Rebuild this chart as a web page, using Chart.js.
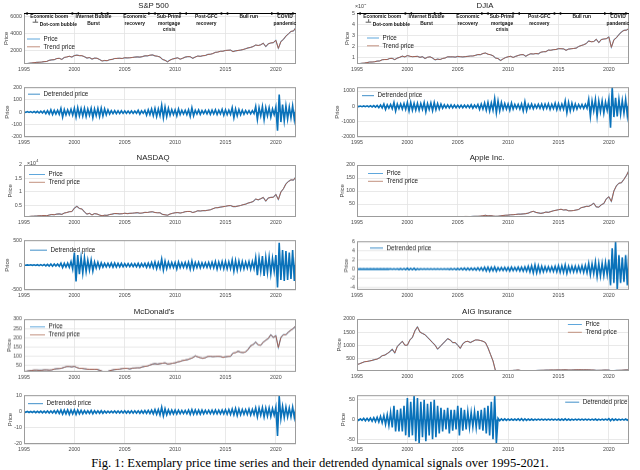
<!DOCTYPE html>
<html><head><meta charset="utf-8">
<script src="https://cdn.jsdelivr.net/npm/chart.js@4.4.1/dist/chart.umd.min.js"></script>
<style>
html,body{margin:0;padding:0;background:#fff;width:640px;height:470px;overflow:hidden;font-family:"Liberation Sans",Arial,sans-serif;}
canvas{position:absolute;}
.ttl{position:absolute;transform:translate(-50%,-50%);font-size:7.8px;color:#1a1a1a;white-space:nowrap;z-index:2;}
#cap{position:absolute;left:0;width:640px;top:456px;text-align:center;font-family:"Liberation Serif","Times New Roman",serif;font-size:12.6px;color:#000;white-space:nowrap;z-index:2;}
</style></head><body>
<div id="cap">Fig. 1: Exemplary price time series and their detrended dynamical signals over 1995-2021.</div>
<script>
// ---------- DATA ----------
const titles = ['S&P 500','DJIA','NASDAQ','Apple Inc.',"McDonald's",'AIG Insurance'];
const xTicks = [1995,2000,2005,2010,2015,2020];
const priceStart = 1995, priceStep = 0.25;   // quarterly samples
const detStart = 1995, detStep = 1/6;        // two-month samples

const spxPrice = [460,500,545,585, 615,650,670,690, 740,760,890,950, 970,1100,1130,1000, 1230,1290,1370,1280,
 1450,1500,1450,1440, 1320,1160,1220,1040, 1150,1140,990,810, 880,850,970,1000, 1110,1120,1140,1110,
 1200,1180,1190,1230, 1270,1300,1270,1330, 1420,1420,1500,1530, 1420,1370,1280,1000, 900,720,920,1050,
 1120,1190,1030,1140, 1270,1330,1320,1130, 1280,1400,1360,1440, 1460,1590,1610,1690, 1830,1870,1960,1970,
 2060,2080,2100,1920, 2010,2060,2100,2160, 2260,2360,2420,2520, 2700,2640,2720,2910, 2510,2840,2940,2980,
 3250,2300,3100,3360, 3750,4020,4300,4360, 4770];
const djiaPrice = [3840,4160,4560,4760, 5120,5600,5650,5900, 6450,6600,7700,7900, 7900,8900,8950,7800, 9200,10000,11000,10300,
 11500,10900,10500,10650, 10800,9900,10500,8850, 10000,10400,9250,7600, 8300,7900,8900,9300, 10400,10350,10400,10100,
 10750,10500,10300,10550, 10800,11100,11150,11700, 12450,12350,13400,13900, 12800,12300,11350,9300, 8800,7000,8500,9700,
 10400,10850,9800,10800, 11600,12300,12400,10900, 12200,13200,12900,13400, 13100,14600,15000,15100, 16500,16400,16900,17050,
 17800,17750,17600,16300, 17400,17700,18000,18300, 19800,20600,21400,22400, 24800,24100,24300,26400, 23300,26100,26600,26900,
 28500,19000,25800,27800, 30600,33000,34500,34700, 36300];
const nasdaqPrice = [750,820,930,1040, 1050,1100,1200,1230, 1300,1220,1450,1680, 1570,1800,1900,1700, 2200,2400,2700,2750,
 4000,4700,3900,3700, 2600,1800,2100,1500, 2000,1850,1450,1200, 1400,1350,1650,1800, 2050,2000,1900,1950,
 2150,2000,2100,2150, 2250,2350,2150,2250, 2450,2420,2600,2700, 2400,2300,2300,1700, 1550,1400,1850,2100,
 2300,2400,2200,2400, 2700,2800,2800,2400, 2650,3050,2950,3100, 3100,3250,3400,3800, 4150,4200,4400,4550,
 4700,4900,5000,4600, 4600,4800,5000,5300, 5500,5900,6150,6500, 7400,7100,7500,8000, 6600,7800,8000,8050,
 9100,7200,10000,11200, 13000,13900,14500,14400, 15700];
const applePrice = [0.35,0.35,0.3,0.25, 0.25,0.2,0.17,0.2, 0.15,0.13,0.17,0.15, 0.2,0.25,0.3,0.35, 0.35,0.4,0.5,0.8,
 1.0,0.9,0.8,0.35, 0.35,0.4,0.3,0.35, 0.4,0.35,0.25,0.25, 0.25,0.3,0.35,0.35, 0.4,0.5,0.6,0.9,
 1.3,1.2,1.8,2.3, 2.2,1.8,2.5,3.0, 3.0,3.8,5.0,6.8, 4.5,5.5,4.0,3.0, 3.2,4.5,6.0,7.0,
 7.5,8.5,9.0,10, 11,11,12,13, 15,19,22,18, 16,14,16,19, 18,21,24,26,
 28,30,27,28, 24,24,25,27, 29,36,38,41, 41,46,53,39, 38,47,52,70,
 78,60,100,120, 130,132,145,160, 180];
const mcdPrice = [16,17,19,21, 23,23,22,22, 24,24,23,24, 28,30,31,33, 38,42,42,40,
 43,37,32,32, 30,28,27,27, 27,27,22,17, 14,14,20,23, 26,27,28,31,
 32,32,29,33, 34,35,35,40, 43,45,50,55, 58,55,58,60, 62,56,57,60,
 62,67,70,75, 77,80,85,90, 100,95,90,87, 90,97,98,96, 97,98,97,92,
 95,97,98,115, 118,125,120,118, 122,135,155,162, 175,160,158,175, 185,195,215,200,
 210,145,200,215, 215,230,240,250, 265];
const aigPrice = [260,290,330,370, 380,400,420,450, 470,520,600,620, 680,750,850,700, 950,1050,1150,1000,
 1000,1200,1300,1550, 1700,1500,1450,1400, 1300,1200,1100,1000, 850,950,1050,1150, 1250,1200,1100,1100,
 1000,880,1050,1130, 1150,1100,1150,1200, 1200,1180,1150,1100, 900,650,400,20, 25,20,30,30,
 30,35,38,45, 55,35,28,25, 30,32,33,35, 38,42,46,48, 50,55,54,56,
 58,55,62,60, 55,53,58,62, 65,62,61,62, 60,55,53,40, 42,45,50,52,
 48,25,30,38, 42,46,52,57, 58];
// trend prices as read: they lie on top of the prices at this scale
const spxTrend = spxPrice, djiaTrend = djiaPrice, nasdaqTrend = nasdaqPrice,
      appleTrend = applePrice, mcdTrend = mcdPrice, aigTrend = aigPrice;

const spxDet = [3,-3,4,-3,4,-4, 5,-5,6,-7,8,-8, 10,-12,12,-15,18,-20, 14,-15,15,-18,30,-40, 20,-22,18,-20,22,-25,
 30,-40,35,-30,28,-32, 30,-35,25,-25,30,-45, 25,-28,30,-35,32,-30, 25,-22,18,-15,12,-12, 12,-12,10,-12,10,-10,
 10,-10,8,-10,10,-10, 8,-10,14,-16,10,-10, 14,-25,18,-20,25,-28, 30,-35,25,-28,55,-45, 40,-35,30,-25,20,-20,
 18,-30,25,-20,15,-15, 15,-20,18,-35,35,-30, 15,-15,18,-18,12,-12, 14,-14,15,-18,16,-15, 18,-20,14,-15,22,-25,
 18,-20,15,-18,35,-45, 25,-30,20,-22,15,-18, 12,-12,12,-14,12,-12, 45,-60,35,-30,45,-60, 35,-30,35,-40,25,-20,
 40,-150,140,-80,60,-70, 50,-55,40,-45,50,-60, 40];
const djiaDet = [15,-15,20,-20,25,-25, 30,-30,40,-40,50,-50, 60,-80,90,-100,150,-200, 100,-120,120,-150,250,-300, 150,-150,150,-180,180,-200,
 250,-300,250,-250,200,-250, 200,-250,180,-200,250,-350, 180,-200,220,-280,250,-220, 180,-180,150,-130,100,-100, 100,-100,90,-100,90,-90,
 80,-90,80,-90,80,-80, 80,-90,100,-120,80,-90, 120,-200,150,-180,220,-250, 250,-300,220,-250,500,-420, 350,-300,250,-200,180,-180,
 150,-250,220,-180,130,-130, 130,-170,160,-300,300,-280, 130,-130,150,-160,110,-110, 130,-130,150,-170,150,-140, 170,-200,130,-150,200,-220,
 170,-200,150,-180,350,-420, 250,-300,200,-220,150,-180, 120,-120,120,-140,130,-130, 450,-650,350,-300,450,-650, 350,-350,350,-450,280,-250,
 450,-1400,1250,-700,550,-650, 450,-500,380,-450,450,-600, 400];
const nasdaqDet = [3,-3,4,-4,5,-5, 6,-8,8,-10,10,-10, 12,-15,15,-18,20,-22, 20,-20,22,-25,40,-50, 35,-40,40,-45,70,-80,
 250,-330,200,-180,150,-160, 150,-130,100,-100,100,-120, 60,-60,55,-60,45,-40, 35,-35,35,-35,40,-40, 40,-40,35,-35,35,-35,
 30,-30,28,-30,30,-30, 30,-35,35,-40,30,-30, 35,-45,40,-45,50,-55, 60,-70,50,-60,120,-100, 80,-70,60,-50,50,-50,
 50,-80,60,-50,45,-45, 50,-55,55,-80,80,-75, 50,-50,55,-55,45,-45, 45,-45,50,-55,55,-55, 70,-80,60,-60,70,-75,
 70,-75,65,-70,100,-120, 90,-100,80,-80,70,-75, 60,-60,70,-80,70,-70, 150,-200,140,-120,180,-220, 150,-150,160,-170,130,-120,
 200,-450,450,-300,300,-320, 280,-300,250,-280,300,-320, 250];
const appleDet = [0.02,-0.02,0.02,-0.02,0.02,-0.02, 0.02,-0.02,0.02,-0.02,0.02,-0.02, 0.02,-0.02,0.02,-0.02,0.03,-0.03, 0.03,-0.03,0.04,-0.04,0.05,-0.05, 0.06,-0.06,0.08,-0.08,0.1,-0.1,
 0.15,-0.15,0.12,-0.12,0.15,-0.15, 0.08,-0.08,0.06,-0.06,0.06,-0.06, 0.05,-0.05,0.04,-0.04,0.04,-0.04, 0.04,-0.04,0.04,-0.04,0.05,-0.05, 0.06,-0.06,0.08,-0.08,0.1,-0.1,
 0.12,-0.12,0.15,-0.15,0.18,-0.18, 0.2,-0.2,0.2,-0.2,0.2,-0.2, 0.25,-0.25,0.3,-0.3,0.4,-0.4, 0.4,-0.45,0.35,-0.35,0.45,-0.45, 0.3,-0.3,0.3,-0.3,0.35,-0.35,
 0.35,-0.4,0.4,-0.35,0.35,-0.35, 0.4,-0.4,0.4,-0.45,0.45,-0.45, 0.6,-0.6,0.7,-0.8,0.9,-0.8, 0.7,-0.7,0.6,-0.6,0.5,-0.5, 0.5,-0.5,0.5,-0.5,0.6,-0.6,
 0.7,-0.7,0.7,-0.7,0.9,-0.9, 0.6,-0.6,0.6,-0.6,0.6,-0.6, 0.6,-0.6,0.7,-0.7,0.8,-0.8, 1.2,-1.2,1.1,-1,1.5,-1.6, 1.2,-1.5,1.2,-1.4,1.4,-1.2,
 2,-3.5,4.5,-3,6,-4.5, 3,-3,2.5,-2.8,3,-3.5, 4.5];
const mcdDet = [0.2,-0.2,0.3,-0.3,0.3,-0.3, 0.4,-0.4,0.4,-0.4,0.5,-0.5, 0.5,-0.5,0.6,-0.6,0.6,-0.6, 0.8,-0.8,1,-1,1.2,-1.3, 1.2,-1.2,1.3,-1.5,1.2,-1.2,
 1.3,-1.5,1.2,-1.2,1,-1.1, 0.9,-0.9,0.8,-0.9,1,-1.1, 0.8,-0.8,0.7,-0.8,0.8,-0.8, 0.6,-0.6,0.5,-0.5,0.5,-0.5, 0.6,-0.6,0.6,-0.6,0.6,-0.6,
 0.7,-0.7,0.6,-0.7,0.7,-0.7, 0.7,-0.7,0.7,-0.8,0.8,-0.8, 0.9,-0.9,1,-1,1.2,-1.2, 1.5,-1.5,1.5,-1.8,3,-2.5, 2,-1.8,1.3,-1.3,1.2,-1.2,
 1.2,-1.3,1.1,-1.1,1,-1, 1,-1.1,1.2,-1.5,1.5,-1.4, 1.3,-1.3,1.2,-1.3,1.2,-1.2, 1,-1,1.1,-1.1,1.1,-1.1, 1.2,-1.2,1.1,-1.1,1.2,-1.2,
 1.4,-1.4,1.5,-1.5,1.8,-1.8, 2.2,-2.2,1.8,-1.8,1.5,-1.5, 1.5,-1.5,1.8,-1.8,1.6,-1.6, 2.5,-3,2.5,-2,2.8,-3, 2.5,-2.5,2.5,-2.8,2.2,-2,
 3,-15,10,-4,3.5,-3.5, 3,-3,2.5,-3,3,-3.5, 3];
const aigDet = [2,-2,2,-2,3,-3, 3,-3,4,-4,5,-5, 6,-6,8,-8,10,-12, 12,-15,18,-20,35,-30, 25,-30,28,-30,35,-40,
 55,-45,45,-40,60,-55, 55,-60,45,-45,50,-55, 40,-40,45,-50,50,-45, 35,-35,30,-30,25,-25, 30,-35,25,-28,25,-25,
 35,-40,30,-28,25,-25, 20,-20,18,-18,20,-20, 22,-25,25,-28,30,-35, 35,-40,45,-50,60,-60, 3,-3,2,-2,2,-2,
 1.5,-1.5,1.5,-1.5,1.5,-1.5, 2,-2,2.5,-2.5,2,-2, 1.5,-1.5,1.5,-1.5,1.2,-1.2, 1.2,-1.2,1.2,-1.2,1.2,-1.2, 1.2,-1.2,1.2,-1.2,1.3,-1.3,
 1.5,-1.5,1.5,-1.5,1.8,-1.8, 1.5,-1.5,1.3,-1.3,1.2,-1.2, 1.1,-1.1,1.1,-1.1,1.1,-1.1, 1.3,-1.3,1.2,-1.2,1.5,-1.5, 1.3,-1.3,1.2,-1.2,1.2,-1.2,
 2.5,-3,2,-2,1.5,-1.5, 1.3,-1.3,1.3,-1.3,1.5,-1.5, 1.5];

// y-axis ticks and their labels
const spxTicks = [2000,4000,6000], spxTickLabels = ['2000','4000','6000'];
const djiaTicks = [10000,20000,30000,40000,50000], djiaTickLabels = ['1','2','3','4','5'];
const nasdaqTicks = [5000,10000,15000,20000], nasdaqTickLabels = ['0.5','1','1.5','2'];
const appleTicks = [50,100,150,200], appleTickLabels = ['50','100','150','200'];
const mcdTicks = [50,100,150,200,250,300], mcdTickLabels = ['50','100','150','200','250','300'];
const aigTicks = [500,1000,1500,2000], aigTickLabels = ['500','1000','1500','2000'];
const spxDetTicks = [-200,-100,0,100,200], spxDetTickLabels = ['-200','-100','0','100','200'];
const djiaDetTicks = [-2000,-1000,0,1000], djiaDetTickLabels = ['-2000','-1000','0','1000'];
const nasdaqDetTicks = [-500,0,500], nasdaqDetTickLabels = ['-500','0','500'];
const appleDetTicks = [-4,-2,0,2,4,6], appleDetTickLabels = ['-4','-2','0','2','4','6'];
const mcdDetTicks = [-20,-10,0,10], mcdDetTickLabels = ['-20','-10','0','10'];
const aigDetTicks = [-50,0,50], aigDetTickLabels = ['-50','0','50'];

// market-phase annotations (S&P 500 and DJIA)
const eventNames = [['Economic boom'],['Internet Bubble','Burst'],['Economic','recovery'],['Sub-Prime','mortgage','crisis'],['Post-GFC','recovery'],['Bull run'],['COVID','pandemic']];
const eventCenters = [1997.5, 2001.9, 2006.0, 2009.4, 2013.1, 2017.3, 2020.9];
const eventBounds = [1995, 2000.1, 2003.0, 2007.7, 2010.8, 2014.9, 2019.9, 2022];
const bubbleName = 'Dot-com bubble', bubbleCenter = 1998.4;

// ---------- DRAWING ----------
const F = '"Liberation Sans", Arial, sans-serif';
const TICKFONT = 5.3;

function pts(start, step, arr){ return arr.map((v,i)=>({x:start+i*step, y:v})); }

function drawArrowHead(ctx, px, py, dir){ // dir +1 points right, -1 points left
  ctx.beginPath(); ctx.moveTo(px, py); ctx.lineTo(px - dir*3.2, py - 1.6); ctx.lineTo(px - dir*3.2, py + 1.6); ctx.closePath(); ctx.fill();
}

function panelPlugin(spec){
  return { id:'panel', afterDatasetsDraw(chart){
    const {ctx, chartArea:a, scales} = chart;
    ctx.save();
    // axes box
    ctx.strokeStyle = '#9c9c9c'; ctx.lineWidth = 1;
    ctx.strokeRect(a.left+0.5, a.top+0.5, a.right-a.left-1, a.bottom-a.top-1);
    // y label
    ctx.font = TICKFONT+'px '+F;
    let mw = 0; spec.yLabels.forEach(t=>{ mw = Math.max(mw, ctx.measureText(t).width); });
    ctx.save(); ctx.translate(a.left - 2 - mw - 4.2, (a.top+a.bottom)/2); ctx.rotate(-Math.PI/2);
    ctx.font = '5.8px '+F; ctx.fillStyle = '#3a3a3a'; ctx.textAlign='center'; ctx.textBaseline='middle';
    ctx.fillText('Price', 0, 0); ctx.restore();
    // exponent label
    if (spec.expo){
      ctx.fillStyle = '#3a3a3a'; ctx.textAlign='left'; ctx.textBaseline='alphabetic';
      const ex = a.left + spec.expo.dx, ey = a.top + spec.expo.dy;
      ctx.font = TICKFONT+'px '+F; ctx.fillText('\u00d710', ex, ey);
      const w = ctx.measureText('\u00d710').width;
      ctx.font = '3.8px '+F; ctx.fillText('4', ex + w + 0.3, ey - 2.6);
    }
    // events
    if (spec.events){
      const xs = scales.x;
      ctx.strokeStyle = '#000'; ctx.fillStyle = '#000'; ctx.lineWidth = 1.1;
      ctx.beginPath(); ctx.moveTo(a.left, a.top+0.5); ctx.lineTo(a.right, a.top+0.5); ctx.stroke();
      eventBounds.forEach((b,i)=>{
        const px = xs.getPixelForValue(b);
        if (i > 0) drawArrowHead(ctx, px-0.5, a.top+0.5, 1);
        if (i < eventBounds.length-1) drawArrowHead(ctx, px+0.5, a.top+0.5, -1);
      });
      ctx.font = 'bold 4.9px '+F; ctx.textAlign='center'; ctx.textBaseline='middle'; ctx.fillStyle = '#111';
      eventNames.forEach((lines,k)=>{
        const px = xs.getPixelForValue(eventCenters[k]);
        lines.forEach((t,j)=> ctx.fillText(t, px, a.top + 3.6 + j*6.6));
      });
      const bx = xs.getPixelForValue(bubbleCenter);
      ctx.fillText(bubbleName, bx, a.top + 11.2);
      const bw = ctx.measureText(bubbleName).width;
      ctx.lineWidth = 0.7; ctx.strokeStyle = '#111';
      ctx.beginPath(); ctx.moveTo(bx - bw/2 - 7, a.top + 9.2); ctx.lineTo(bx - bw/2 - 1.5, a.top + 9.2); ctx.stroke();
      ctx.beginPath(); ctx.moveTo(bx - bw/2 - 4, a.top + 6.2); ctx.lineTo(bx - bw/2 - 4, a.top + 8.8); ctx.stroke();
    }
    // legend
    const L = spec.legend;
    ctx.font = '6.3px '+F;
    const items = chart.data.datasets.map(d=>({label:d.label, color:d.legendColor || d.borderColor}));
    const tw = Math.max(...items.map(it=>ctx.measureText(it.label).width));
    const x0 = L.right ? a.right - L.x - tw - 3.5 - L.len : a.left + L.x;
    items.forEach((it,i)=>{
      const yy = a.top + L.y + i*7.8;
      ctx.strokeStyle = it.color; ctx.lineWidth = 1;
      ctx.beginPath(); ctx.moveTo(x0, yy); ctx.lineTo(x0+L.len, yy); ctx.stroke();
      ctx.fillStyle = '#1a1a1a'; ctx.textAlign='left'; ctx.textBaseline='middle';
      ctx.fillText(it.label, x0 + L.len + 3.5, yy);
    });
    ctx.restore();
  }};
}

function makeChart(spec){
  const c = document.createElement('canvas');
  const W = spec.plotLeft - spec.canvasLeft, padTop = spec.padTop, padRight = 4, xH = 10;
  const cw = W + spec.plotW + padRight, ch = padTop + spec.plotH + xH;
  c.width = cw; c.height = ch;
  c.style.left = spec.canvasLeft+'px'; c.style.top = (spec.plotTop - padTop)+'px';
  c.style.width = cw+'px'; c.style.height = ch+'px';
  document.body.appendChild(c);
  const tickOpts = {font:{size:TICKFONT, family:F}, color:'#4a4a4a', padding:2, maxRotation:0, autoSkip:false};
  const gridOpts = {color:'#e3e3e3', lineWidth:0.8, drawTicks:false};
  new Chart(c, {
    type:'line',
    data:{datasets: spec.datasets},
    options:{
      responsive:false, animation:false, events:[],
      layout:{padding:{top:padTop, right:padRight, left:0, bottom:0}},
      elements:{point:{radius:0}, line:{tension:0}},
      plugins:{legend:{display:false}, tooltip:{enabled:false}, title:{display:false}},
      scales:{
        x:{type:'linear', min:1995, max:2022,
          afterBuildTicks(ax){ ax.ticks = xTicks.map(v=>({value:v})); },
          afterFit(ax){ ax.height = xH; },
          ticks:Object.assign({}, tickOpts, {callback:(v)=>String(v)}),
          grid:gridOpts, border:{display:false}},
        y:{type:'linear', min:spec.yMin, max:spec.yMax,
          afterBuildTicks(ax){ ax.ticks = spec.yTicks.map(v=>({value:v})); },
          afterFit(ax){ ax.width = W; },
          ticks:Object.assign({}, tickOpts, {callback:(v,i)=>spec.yLabels[i]}),
          grid:gridOpts, border:{display:false}}
      }
    },
    plugins:[panelPlugin(spec)]
  });
}

function priceSets(price, trend){
  return [
    {label:'Price', order:1, data:pts(priceStart, priceStep, price), borderColor:'#6aaedc', borderWidth:1.1, legendColor:'#5fa7dc'},
    {label:'Trend price', order:0, data:pts(priceStart, priceStep, trend), borderColor:'rgba(172,86,62,1)', borderWidth:0.9, legendColor:'#c2917f'}
  ];
}
function detSets(det){
  return [{label:'Detrended price', data:pts(detStart, detStep, det), borderColor:'#0a72ba', borderWidth:1.6,
           fill:'origin', backgroundColor:'rgba(0,114,189,0.9)', legendColor:'#3f8fc9'}];
}

const LX = 24, RX = 357, PW = 272;
const panels = [
  {canvasLeft:0, plotLeft:LX, plotW:PW, plotTop:13, plotH:51, padTop:9, yMin:460, yMax:6470, yTicks:spxTicks, yLabels:spxTickLabels,
   datasets:priceSets(spxPrice, spxTrend), events:true, legend:{x:3, y:26, len:13}},
  {canvasLeft:0, plotLeft:LX, plotW:PW, plotTop:85, plotH:52, padTop:3, yMin:-200, yMax:200, yTicks:spxDetTicks, yLabels:spxDetTickLabels,
   datasets:detSets(spxDet), legend:{x:4, y:7, len:12}},
  {canvasLeft:325, plotLeft:RX, plotW:PW, plotTop:13, plotH:51, padTop:9, yMin:3840, yMax:50300, yTicks:djiaTicks, yLabels:djiaTickLabels,
   datasets:priceSets(djiaPrice, djiaTrend), events:true, expo:{dx:-2, dy:-5}, legend:{x:10, y:25, len:12}},
  {canvasLeft:325, plotLeft:RX, plotW:PW, plotTop:85, plotH:52, padTop:3, yMin:-2000, yMax:1250, yTicks:djiaDetTicks, yLabels:djiaDetTickLabels,
   datasets:detSets(djiaDet), legend:{x:5, y:8.5, len:12}},
  {canvasLeft:0, plotLeft:LX, plotW:PW, plotTop:164.5, plotH:52.5, padTop:9, yMin:740, yMax:20000, yTicks:nasdaqTicks, yLabels:nasdaqTickLabels,
   datasets:priceSets(nasdaqPrice, nasdaqTrend), expo:{dx:3, dy:-0.5}, legend:{x:5, y:9.5, len:16}},
  {canvasLeft:0, plotLeft:LX, plotW:PW, plotTop:238, plotH:52, padTop:3, yMin:-500, yMax:500, yTicks:nasdaqDetTicks, yLabels:nasdaqDetTickLabels,
   datasets:detSets(nasdaqDet), legend:{x:6, y:10, len:17}},
  {canvasLeft:325, plotLeft:RX, plotW:PW, plotTop:165, plotH:52, padTop:9, yMin:0.13, yMax:200, yTicks:appleTicks, yLabels:appleTickLabels,
   datasets:priceSets(applePrice, appleTrend), legend:{x:11, y:8.5, len:15}},
  {canvasLeft:325, plotLeft:RX, plotW:PW, plotTop:239, plotH:50.5, padTop:3, yMin:-4.5, yMax:6, yTicks:appleDetTicks, yLabels:appleDetTickLabels,
   datasets:detSets(appleDet), legend:{x:13, y:6.7, len:13}},
  {canvasLeft:0, plotLeft:LX, plotW:PW, plotTop:319, plotH:52.5, padTop:9, yMin:13, yMax:300, yTicks:mcdTicks, yLabels:mcdTickLabels,
   datasets:priceSets(mcdPrice, mcdTrend), legend:{x:6, y:7.7, len:15}},
  {canvasLeft:0, plotLeft:LX, plotW:PW, plotTop:392.5, plotH:51.5, padTop:3, yMin:-20, yMax:10.5, yTicks:mcdDetTicks, yLabels:mcdDetTickLabels,
   datasets:detSets(mcdDet), legend:{x:4, y:8.5, len:15}},
  {canvasLeft:325, plotLeft:RX, plotW:PW, plotTop:319, plotH:52, padTop:9, yMin:15, yMax:2000, yTicks:aigTicks, yLabels:aigTickLabels,
   datasets:priceSets(aigPrice, aigTrend), legend:{right:true, x:12, y:5.5, len:14}},
  {canvasLeft:325, plotLeft:RX, plotW:PW, plotTop:392.5, plotH:51.5, padTop:3, yMin:-62, yMax:62, yTicks:aigDetTicks, yLabels:aigDetTickLabels,
   datasets:detSets(aigDet), legend:{right:true, x:1.5, y:7, len:14}}
];
panels.forEach(makeChart);

const titlePos = [[153.5,5],[485,5],[153,157],[487,157],[154,311],[487,311]];
titles.forEach((t,i)=>{
  const d = document.createElement('div'); d.className='ttl'; d.textContent = t;
  d.style.left = titlePos[i][0]+'px'; d.style.top = titlePos[i][1]+'px';
  document.body.appendChild(d);
});
</script>
</body></html>
